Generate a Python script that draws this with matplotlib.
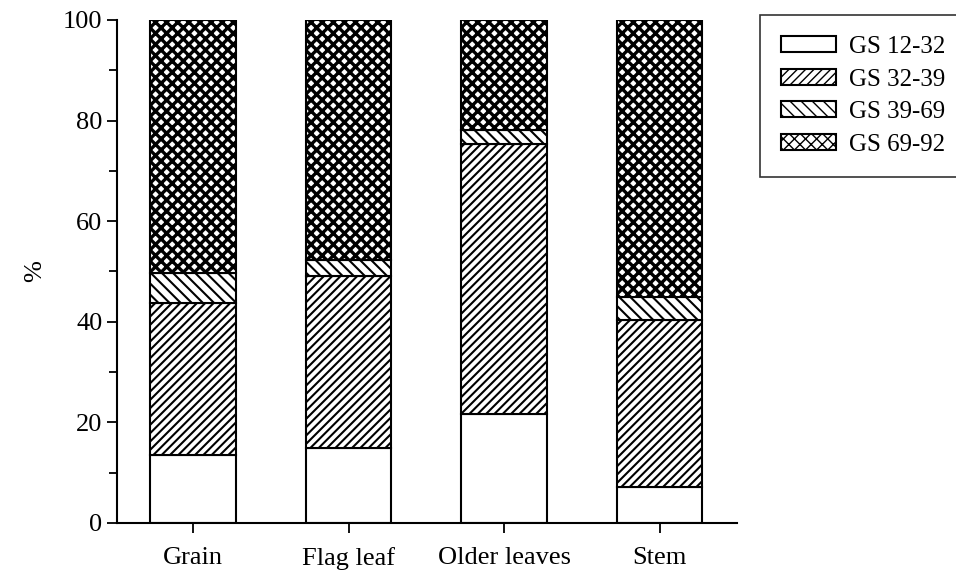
import numpy as np
import matplotlib.pyplot as plt

plt.rcParams["font.family"] = ["Liberation Serif", "DejaVu Serif"]
plt.rcParams["hatch.color"] = "black"

# Share of each growth-stage interval (%)
tissues = ["Grain", "Flag leaf", "Older leaves", "Stem"]
stages = ["GS 12-32", "GS 32-39", "GS 39-69", "GS 69-92"]
gs_12_32 = [13.5, 14.9, 21.7, 7.1]
gs_32_39 = [30.2, 34.2, 53.6, 33.3]
gs_39_69 = [5.9, 3.2, 2.8, 4.6]
gs_69_92 = [50.4, 47.7, 21.9, 55.0]

series = [gs_12_32, gs_32_39, gs_39_69, gs_69_92]
hatches = ["", "////", "\\\\\\", "xxx"]
hatch_lw = [1.0, 1.5, 1.5, 2.4]

fig = plt.figure(figsize=(9.56, 5.73), dpi=100)
ax = fig.add_axes([0.1224, 0.0873, 0.649, 0.878])

x = np.arange(len(tissues))
bottom = np.zeros(len(tissues))
for vals, h, hlw, lab in zip(series, hatches, hatch_lw, stages):
    with plt.rc_context({"hatch.linewidth": hlw}):
        ax.bar(x, vals, width=0.55, bottom=bottom, color="white",
               edgecolor="black", linewidth=1.5, hatch=h, label=lab)
    bottom += np.array(vals)

ax.set_xlim(-0.49, 3.5)
ax.set_ylim(0, 100)
ax.set_xticks(x)
ax.set_xticklabels(tissues, fontsize=19)
ax.set_yticks(np.arange(0, 101, 20))
ax.set_yticks(np.arange(10, 100, 20), minor=True)
ax.tick_params(axis="y", labelsize=19, direction="out", length=7, width=1.3)
ax.tick_params(axis="y", which="minor", length=6, width=1.3)
ax.tick_params(axis="x", direction="out", length=7, width=1.3, pad=10)
ax.set_ylabel("%", fontsize=19, labelpad=12)

for s in ["top", "right"]:
    ax.spines[s].set_visible(False)
for s in ["left", "bottom"]:
    ax.spines[s].set_linewidth(1.5)

leg = fig.legend(loc="upper left", bbox_to_anchor=(0.795, 0.974),
                 fontsize=18, frameon=True, fancybox=False,
                 edgecolor="black", handlelength=2.2, handleheight=0.62,
                 handletextpad=0.5, labelspacing=0.42, borderpad=0.85,
                 borderaxespad=0)
leg.get_frame().set_linewidth(1.2)

fig.savefig("out.png", dpi=100)
